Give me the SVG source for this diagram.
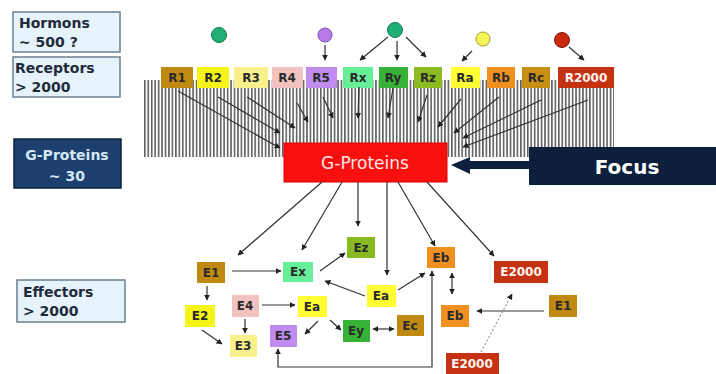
<svg xmlns="http://www.w3.org/2000/svg" width="716" height="374" viewBox="0 0 716 374">
<defs>
<style>
.lbl{font-family:"DejaVu Sans","Liberation Sans",sans-serif;font-weight:bold;font-size:12px;text-anchor:middle;fill:#2a2a2a}
.lw{fill:#fff5f0}
.side{font-family:"DejaVu Sans","Liberation Sans",sans-serif;font-weight:bold;font-size:14px;fill:#1f2b3a}
.sbox{fill:#e6f3fb;stroke:#6b7f90;stroke-width:1.5}
.ar{stroke:#333;stroke-width:1.2;fill:none;marker-end:url(#ah)}
</style>
<marker id="ah" viewBox="0 0 10 10" refX="9" refY="5" markerWidth="6" markerHeight="6" markerUnits="userSpaceOnUse" orient="auto"><path d="M0,0 L10,5 L0,10 z" fill="#222"/></marker>
<marker id="as" viewBox="0 0 10 10" refX="1" refY="5" markerWidth="6" markerHeight="6" markerUnits="userSpaceOnUse" orient="auto"><path d="M10,0 L0,5 L10,10 z" fill="#222"/></marker>
<pattern id="mem" x="144" y="0" width="3.45" height="10" patternUnits="userSpaceOnUse"><rect x="0" y="0" width="1.6" height="10" fill="#606060"/></pattern>
</defs>
<rect width="716" height="374" fill="#ffffff"/>

<g id="side-hormons"><rect class="sbox" x="13" y="12" width="107" height="40"/><text class="side" x="19" y="28">Hormons</text><text class="side" x="19" y="47">∼ 500 ?</text></g>
<g id="side-receptors"><rect class="sbox" x="13" y="57" width="107" height="40"/><text class="side" x="15" y="73">Receptors</text><text class="side" x="15" y="92">&gt; 2000</text></g>
<g id="side-gproteins"><rect x="14" y="139" width="107" height="49" fill="#1d3f6e" stroke="#0e223f" stroke-width="1.5"/><text class="side" x="67" y="160" text-anchor="middle" style="fill:#d2e8f7">G-Proteins</text><text class="side" x="67" y="181" text-anchor="middle" style="fill:#d2e8f7">∼ 30</text></g>
<g id="side-effectors"><rect class="sbox" x="17" y="280" width="108" height="42"/><text class="side" x="23" y="297">Effectors</text><text class="side" x="23" y="316">&gt; 2000</text></g>

<g id="membrane"><rect x="144" y="80" width="470" height="77" fill="url(#mem)"/></g>

<g id="hormones">
<circle cx="219" cy="35" r="7.5" fill="#1fae75" stroke="#137a50"/>
<circle cx="325" cy="35" r="7" fill="#b77ae8" stroke="#7a4aa8"/>
<circle cx="395" cy="30" r="7.5" fill="#1fae75" stroke="#137a50"/>
<circle cx="483" cy="39" r="7" fill="#f5f55a" stroke="#a0a030"/>
<circle cx="562" cy="40" r="7.5" fill="#c82a10" stroke="#801808"/>
</g>

<g id="receptors">
<g id="R1"><rect x="161" y="67" width="32" height="21" fill="#c08a12"/><text class="lbl" x="177" y="82">R1</text></g>
<g id="R2"><rect x="197" y="67" width="32" height="21" fill="#f7f518"/><text class="lbl" x="213" y="82">R2</text></g>
<g id="R3"><rect x="234" y="67" width="34" height="21" fill="#f8f08a"/><text class="lbl" x="251" y="82">R3</text></g>
<g id="R4"><rect x="272" y="67" width="31" height="21" fill="#f2c2c0"/><text class="lbl" x="287" y="82">R4</text></g>
<g id="R5"><rect x="306" y="67" width="31" height="21" fill="#c08cf0"/><text class="lbl" x="321" y="82">R5</text></g>
<g id="Rx"><rect x="343" y="67" width="30" height="21" fill="#66ee99"/><text class="lbl" x="358" y="82">Rx</text></g>
<g id="Ry"><rect x="379" y="67" width="29" height="21" fill="#36b236"/><text class="lbl" x="393" y="82">Ry</text></g>
<g id="Rz"><rect x="414" y="67" width="28" height="21" fill="#8cbc22"/><text class="lbl" x="428" y="82">Rz</text></g>
<g id="Ra"><rect x="451" y="67" width="29" height="21" fill="#ffff33"/><text class="lbl" x="465" y="82">Ra</text></g>
<g id="Rb"><rect x="487" y="67" width="28" height="21" fill="#f09020"/><text class="lbl" x="501" y="82">Rb</text></g>
<g id="Rc"><rect x="522" y="67" width="28" height="21" fill="#c89012"/><text class="lbl" x="536" y="82">Rc</text></g>
<g id="R2000"><rect x="558" y="67" width="56" height="21" fill="#c43212"/><text class="lbl lw" x="586" y="82">R2000</text></g>
</g>

<g id="gproteins"><rect x="284" y="143" width="163" height="39" fill="#fa0f0f" stroke="#d00" stroke-width="1"/><text x="365" y="169" text-anchor="middle" font-family="DejaVu Sans,Liberation Sans,sans-serif" font-size="17" fill="#ffe6e6">G-Proteins</text></g>

<g id="focus"><rect x="529" y="147" width="187" height="38" fill="#0c1f3d"/><path d="M529,161 L470,161 L470,157 L451,165 L470,174 L470,169 L529,169 z" fill="#0c1f3d"/><text x="627" y="174" text-anchor="middle" font-family="DejaVu Sans,Liberation Sans,sans-serif" font-weight="bold" font-size="20" fill="#ffffff">Focus</text></g>

<g id="effectors">
<g id="E1"><rect x="197" y="262" width="28" height="21" fill="#c08a12"/><text class="lbl" x="211" y="277">E1</text></g>
<g id="Ex"><rect x="283" y="262" width="30" height="20" fill="#66ee99"/><text class="lbl" x="298" y="276">Ex</text></g>
<g id="Ez"><rect x="347" y="237" width="28" height="21" fill="#88bb22"/><text class="lbl" x="361" y="252">Ez</text></g>
<g id="Ea1"><rect x="367" y="285" width="29" height="22" fill="#ffff33"/><text class="lbl" x="381" y="300">Ea</text></g>
<g id="Ea2"><rect x="298" y="296" width="29" height="21" fill="#ffff33"/><text class="lbl" x="312" y="311">Ea</text></g>
<g id="E2"><rect x="185" y="305" width="30" height="22" fill="#f7f518"/><text class="lbl" x="200" y="320">E2</text></g>
<g id="E4"><rect x="232" y="295" width="27" height="22" fill="#f2c2c0"/><text class="lbl" x="245" y="310">E4</text></g>
<g id="E3"><rect x="230" y="335" width="27" height="22" fill="#f8f08a"/><text class="lbl" x="243" y="350">E3</text></g>
<g id="E5"><rect x="270" y="325" width="27" height="22" fill="#c08cf0"/><text class="lbl" x="283" y="340">E5</text></g>
<g id="Ey"><rect x="343" y="320" width="27" height="22" fill="#36b236"/><text class="lbl" x="356" y="335">Ey</text></g>
<g id="Ec"><rect x="397" y="315" width="27" height="21" fill="#c08a12"/><text class="lbl" x="410" y="330">Ec</text></g>
<g id="Eb1"><rect x="427" y="247" width="28" height="21" fill="#f09020"/><text class="lbl" x="441" y="262">Eb</text></g>
<g id="Eb2"><rect x="441" y="305" width="28" height="22" fill="#f09020"/><text class="lbl" x="455" y="320">Eb</text></g>
<g id="E2000a"><rect x="494" y="261" width="54" height="22" fill="#c43212"/><text class="lbl lw" x="521" y="276">E2000</text></g>
<g id="E1b"><rect x="549" y="295" width="28" height="22" fill="#c08a12"/><text class="lbl" x="563" y="310">E1</text></g>
<g id="E2000b"><rect x="446" y="353" width="53" height="21" fill="#c43212"/><text class="lbl lw" x="472" y="368">E2000</text></g>
</g>

<g id="connectors">
<line class="ar" x1="325" y1="45" x2="325" y2="60"/>
<line class="ar" x1="388" y1="37" x2="360" y2="60"/>
<line class="ar" x1="397" y1="41" x2="397" y2="60"/>
<line class="ar" x1="406" y1="37" x2="426" y2="57"/>
<line class="ar" x1="472" y1="51" x2="462" y2="61"/>
<line class="ar" x1="569" y1="47" x2="584" y2="60"/>

<line class="ar" x1="178" y1="91" x2="280" y2="148"/>
<line class="ar" x1="218" y1="97" x2="280" y2="133"/>
<line class="ar" x1="247" y1="97" x2="295" y2="128"/>
<line class="ar" x1="297" y1="103" x2="308" y2="122"/>
<line class="ar" x1="323" y1="97" x2="333" y2="118"/>
<line class="ar" x1="359" y1="87" x2="358" y2="118"/>
<line class="ar" x1="393" y1="88" x2="388" y2="118"/>
<line class="ar" x1="427" y1="95" x2="418" y2="122"/>
<line class="ar" x1="461" y1="99" x2="438" y2="127"/>
<line class="ar" x1="499" y1="97" x2="454" y2="133"/>
<line class="ar" x1="541" y1="100" x2="463" y2="138"/>
<line class="ar" x1="588" y1="100" x2="463" y2="147"/>

<line class="ar" x1="322" y1="182" x2="238" y2="255"/>
<line class="ar" x1="342" y1="182" x2="302" y2="250"/>
<line class="ar" x1="358" y1="182" x2="358" y2="226"/>
<line class="ar" x1="387" y1="182" x2="387" y2="275"/>
<line class="ar" x1="398" y1="182" x2="435" y2="246"/>
<line class="ar" x1="427" y1="182" x2="494" y2="256"/>

<line class="ar" x1="232" y1="271" x2="281" y2="271"/>
<line class="ar" x1="320" y1="271" x2="345" y2="253"/>
<line class="ar" x1="365" y1="296" x2="325" y2="281"/>
<line class="ar" x1="398" y1="290" x2="425" y2="273"/>
<line class="ar" x1="207" y1="286" x2="207" y2="300"/>
<line class="ar" x1="262" y1="305" x2="295" y2="305"/>
<line class="ar" x1="245" y1="319" x2="245" y2="333"/>
<line class="ar" x1="202" y1="330" x2="222" y2="344"/>
<line class="ar" x1="318" y1="321" x2="305" y2="334"/>
<line class="ar" x1="330" y1="320" x2="341" y2="330"/>
<line class="ar" x1="373" y1="329" x2="394" y2="329" style="marker-start:url(#as)"/>
<line class="ar" x1="452" y1="273" x2="452" y2="294" style="marker-start:url(#as)"/>
<line class="ar" x1="544" y1="311" x2="477" y2="311"/>
<path class="ar" d="M278,349 L278,367 L432,367 L432,271" style="marker-start:url(#as)"/>
<line x1="481" y1="352" x2="512" y2="294" stroke="#777" stroke-width="1" stroke-dasharray="2,2" marker-end="url(#ah)"/>
</g>
</svg>
